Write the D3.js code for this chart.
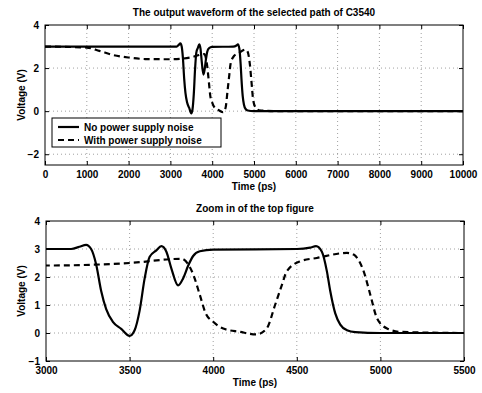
<!DOCTYPE html>
<html>
<head>
<meta charset="utf-8">
<script src="https://cdn.jsdelivr.net/npm/d3@7"></script>
<style>
  body { margin: 0; background: #fff; }
  svg text { font-family: "Liberation Sans", Arial, sans-serif; font-weight: bold; }
</style>
</head>
<body>
<div id="chart-area"></div>
<script>
// time in ps, voltage in V
const noNoiseT = [0, 1000, 2000, 3000, 3150, 3200, 3240, 3270, 3300, 3330, 3360, 3400, 3450, 3500, 3530, 3560, 3590, 3620, 3660, 3690, 3720, 3750, 3790, 3820, 3850, 3880, 3920, 4000, 4500, 4580, 4615, 4650, 4680, 4700, 4730, 4760, 4800, 4850, 5000, 6000, 8000, 10000]
const noNoiseV = [3, 3, 3, 3, 3.0, 3.08, 3.15, 3.0, 2.45, 1.5, 0.85, 0.4, 0.15, -0.1, 0.1, 0.8, 1.95, 2.72, 2.95, 3.1, 2.9, 2.3, 1.7, 1.95, 2.4, 2.75, 2.92, 2.98, 3.0, 3.05, 3.1, 2.9, 2.2, 1.5, 0.7, 0.3, 0.1, 0.03, 0, 0, 0, 0]

const noiseT = [0, 1000, 1300, 1600, 2000, 2400, 3000, 3500, 3810, 3880, 3920, 3955, 4000, 4060, 4160, 4260, 4320, 4370, 4410, 4440, 4520, 4620, 4800, 4840, 4900, 4940, 4980, 5040, 5120, 5500, 6000, 8000, 10000]
const noiseV = [3, 2.95, 2.8, 2.62, 2.49, 2.42, 2.41, 2.5, 2.65, 2.1, 1.36, 0.7, 0.4, 0.16, 0.04, -0.05, 0.16, 1.0, 1.7, 2.2, 2.56, 2.68, 2.86, 2.8, 2.2, 1.36, 0.52, 0.16, 0.04, 0, 0, 0, 0]

const topXTicks = [0, 1000, 2000, 3000, 4000, 5000, 6000, 7000, 8000, 9000, 10000]
const topYTicks = [-2, 0, 2, 4]
const botXTicks = [3000, 3500, 4000, 4500, 5000, 5500]
const botYTicks = [-1, 0, 1, 2, 3, 4]

const legendLabels = ["No power supply noise", "With power supply noise"]

const WIDTH = 482
const HEIGHT = 393

const series = [
  { t: noNoiseT, v: noNoiseV, dash: null },
  { t: noiseT, v: noiseV, dash: "6,4" }
]

const svg = d3.select("#chart-area").append("svg")
    .attr("width", WIDTH)
    .attr("height", HEIGHT)

function panel(opts) {
  const x = d3.scaleLinear().domain(opts.xDomain).range([opts.left, opts.right])
  const y = d3.scaleLinear().domain(opts.yDomain).range([opts.bottom, opts.top])
  const g = svg.append("g")

  const clipId = "clip" + opts.id
  svg.append("clipPath").attr("id", clipId)
    .append("rect")
    .attr("x", opts.left).attr("y", opts.top)
    .attr("width", opts.right - opts.left).attr("height", opts.bottom - opts.top)

  // grid
  g.selectAll(".vgrid").data(opts.xTicks.slice(1, -1)).enter().append("line")
    .attr("x1", d => x(d)).attr("x2", d => x(d))
    .attr("y1", opts.top).attr("y2", opts.bottom)
    .attr("stroke", "#888").attr("stroke-width", 0.8).attr("stroke-dasharray", "1,3")
  g.selectAll(".hgrid").data(opts.yTicks.filter(d => d > opts.yDomain[0] && d < opts.yDomain[1])).enter().append("line")
    .attr("x1", opts.left).attr("x2", opts.right)
    .attr("y1", d => y(d)).attr("y2", d => y(d))
    .attr("stroke", "#888").attr("stroke-width", 0.8).attr("stroke-dasharray", "1,3")

  // axes
  const xb = g.append("g").attr("transform", `translate(0,${opts.bottom})`)
    .call(d3.axisBottom(x).tickValues(opts.xTicks).tickSize(-4).tickPadding(6).tickFormat(d3.format("d")))
  const xt = g.append("g").attr("transform", `translate(0,${opts.top})`)
    .call(d3.axisTop(x).tickValues(opts.xTicks).tickSize(-4).tickFormat(""))
  const yl = g.append("g").attr("transform", `translate(${opts.left},0)`)
    .call(d3.axisLeft(y).tickValues(opts.yTicks).tickSize(-4).tickPadding(6).tickFormat(d => d < 0 ? "\u2212" + Math.abs(d) : d))
  const yr = g.append("g").attr("transform", `translate(${opts.right},0)`)
    .call(d3.axisRight(y).tickValues(opts.yTicks).tickSize(-4).tickFormat(""))
  for (const a of [xb, xt, yl, yr]) {
    a.select(".domain").remove()
    a.selectAll("line").attr("stroke", "#000")
    a.selectAll("text").attr("font-size", "10px").attr("fill", "#000")
  }

  g.append("rect")
    .attr("x", opts.left).attr("y", opts.top)
    .attr("width", opts.right - opts.left).attr("height", opts.bottom - opts.top)
    .attr("fill", "none").attr("stroke", "#000").attr("stroke-width", 1)

  const line = d3.line().x(d => x(d[0])).y(d => y(d[1])).curve(d3.curveMonotoneX)
  const lines = g.append("g").attr("clip-path", `url(#${clipId})`)
  series.forEach(s => {
    lines.append("path")
      .attr("d", line(d3.zip(s.t, s.v)))
      .attr("fill", "none").attr("stroke", "#000").attr("stroke-width", 2.2)
      .attr("stroke-dasharray", s.dash)
  })

  // title
  g.append("text")
    .attr("x", (opts.left + opts.right) / 2).attr("y", opts.top - 9)
    .attr("text-anchor", "middle").attr("font-size", "10px")
    .text(opts.title)

  // X label
  g.append("text")
    .attr("x", (opts.left + opts.right) / 2).attr("y", opts.bottom + 25)
    .attr("text-anchor", "middle").attr("font-size", "10px")
    .text("Time (ps)")

  // Y label
  g.append("text")
    .attr("x", -(opts.top + opts.bottom) / 2).attr("y", 25)
    .attr("transform", "rotate(-90)")
    .attr("text-anchor", "middle").attr("font-size", "10px")
    .text("Voltage (V)")

  return g
}

const topPanel = panel({
  id: 1, left: 45, right: 463, top: 25, bottom: 165,
  xDomain: [0, 10000], yDomain: [-2.5, 4],
  xTicks: topXTicks, yTicks: topYTicks,
  title: "The output waveform of the selected path of C3540"
})

panel({
  id: 2, left: 46, right: 464, top: 221, bottom: 361,
  xDomain: [3000, 5500], yDomain: [-1, 4],
  xTicks: botXTicks, yTicks: botYTicks,
  title: "Zoom in of the top figure"
})

// legend
const lg = topPanel.append("g").attr("transform", "translate(52,118)")
lg.append("rect").attr("width", 169).attr("height", 29)
  .attr("fill", "#fff").attr("stroke", "#000").attr("stroke-width", 1)
legendLabels.forEach((label, i) => {
  lg.append("line")
    .attr("x1", 6).attr("x2", 27).attr("y1", 9 + i * 13).attr("y2", 9 + i * 13)
    .attr("stroke", "#000").attr("stroke-width", 2.2)
    .attr("stroke-dasharray", series[i].dash)
  lg.append("text").attr("x", 32).attr("y", 13 + i * 13)
    .attr("font-size", "10px").text(label)
})
</script>
</body>
</html>
